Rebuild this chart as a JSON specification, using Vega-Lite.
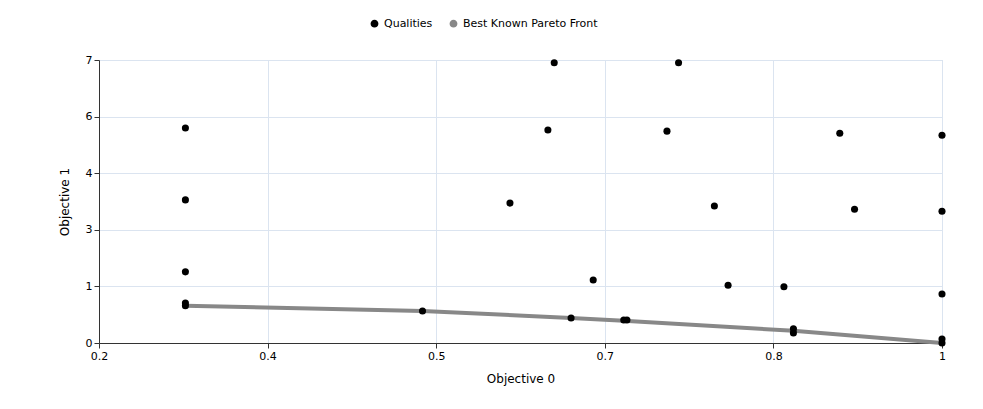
{
  "$schema": "https://vega.github.io/schema/vega-lite/v6.json",
  "width": 843,
  "height": 283,
  "autosize": {"type": "none"},
  "padding": {"left": 99, "top": 60, "right": 41, "bottom": 66},
  "background": "white",
  "config": {
    "view": {"stroke": "#c8d4e4"},
    "font": "DejaVu Sans",
    "axis": {"gridColor": "#dbe4f0", "domainColor": "#333", "tickColor": "#333", "labelFontSize": 11, "titleFontSize": 12, "titleFontWeight": "normal", "labelColor": "#000", "titleColor": "#000", "labelOverlap": false, "labelFlush": false}
  },
  "datasets": {
    "q": [
      {"x": 0.282, "y": 5.32}, {"x": 0.282, "y": 3.54}, {"x": 0.282, "y": 1.76}, {"x": 0.282, "y": 0.99}, {"x": 0.282, "y": 0.92},
      {"x": 0.632, "y": 6.93}, {"x": 0.750, "y": 6.93}, {"x": 0.626, "y": 5.27}, {"x": 0.739, "y": 5.24}, {"x": 0.903, "y": 5.19}, {"x": 1.0, "y": 5.14},
      {"x": 0.590, "y": 3.46}, {"x": 0.784, "y": 3.39}, {"x": 0.917, "y": 3.31}, {"x": 1.0, "y": 3.26},
      {"x": 0.669, "y": 1.56}, {"x": 0.797, "y": 1.43}, {"x": 0.850, "y": 1.39}, {"x": 1.0, "y": 1.21},
      {"x": 0.507, "y": 0.79}, {"x": 0.648, "y": 0.62}, {"x": 0.698, "y": 0.57}, {"x": 0.701, "y": 0.57},
      {"x": 0.859, "y": 0.35}, {"x": 0.859, "y": 0.25}, {"x": 1.0, "y": 0.1}, {"x": 1.0, "y": 0.0}
    ],
    "p": [
      {"x": 0.282, "y": 0.92}, {"x": 0.507, "y": 0.79}, {"x": 0.648, "y": 0.62}, {"x": 0.698, "y": 0.55}, {"x": 0.859, "y": 0.30}, {"x": 1.0, "y": 0.0}
    ]
  },
  "encoding": {
    "x": {"field": "x", "type": "quantitative", "title": "Objective 0", "scale": {"domain": [0.2, 1], "nice": false}, "axis": {"values": [0.2, 0.36, 0.52, 0.68, 0.84, 1], "format": "~g", "titlePadding": 12}},
    "y": {"field": "y", "type": "quantitative", "title": "Objective 1", "scale": {"domain": [0, 7], "nice": false}, "axis": {"values": [0, 1.4, 2.8, 4.2, 5.6, 7], "format": "~g", "titlePadding": 14}}
  },
  "layer": [
    {
      "data": {"name": "p"},
      "transform": [{"calculate": "'Best Known Pareto Front'", "as": "s"}],
      "mark": {"type": "line", "strokeWidth": 4},
      "encoding": {"color": {"field": "s", "type": "nominal"}}
    },
    {
      "data": {"name": "q"},
      "transform": [{"calculate": "'Qualities'", "as": "s"}],
      "mark": {"type": "circle", "size": 50, "opacity": 1},
      "encoding": {
        "color": {"field": "s", "type": "nominal", "title": null,
          "scale": {"domain": ["Qualities", "Best Known Pareto Front"], "range": ["black", "#888888"]},
          "legend": {"orient": "none", "legendX": 270, "legendY": -42, "direction": "horizontal", "symbolType": "circle", "symbolSize": 40, "labelFontSize": 11, "columnPadding": 14}}
      }
    }
  ]
}
